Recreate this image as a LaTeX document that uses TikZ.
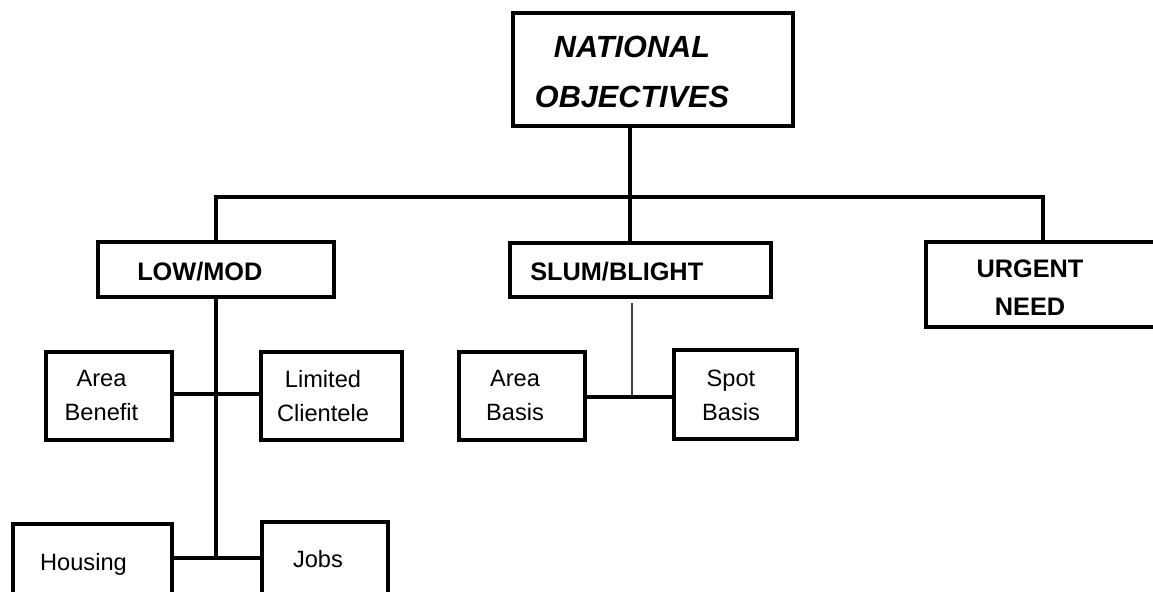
\documentclass[tikz,border=0pt]{standalone}
\usepackage{fontspec}
\setmainfont{Liberation Sans}
\usepackage{tikz}
\usetikzlibrary{calc}

\tikzset{
	box/.style={draw, line width=2.6pt, inner sep=0pt, rectangle},
	head/.style={font=\bfseries\fontsize{18}{22}\selectfont, inner sep=0pt},
	sub/.style={font=\fontsize{16.8}{24.2}\selectfont, inner sep=0pt, align=center},
	wire/.style={line width=2.6pt},
}

\begin{document}
\begin{tikzpicture}[x=0.025cm, y=-0.025cm]
	\useasboundingbox (0,0) rectangle (1153,592);
	\clip (0,0) rectangle (1153,592);

	% boxes
	\node[box, minimum width=280*0.025cm, minimum height=113*0.025cm] (nat) at (653,69.5) {};
	\node[box, minimum width=236*0.025cm, minimum height=55*0.025cm] (low) at (216,269.5) {};
	\node[box, minimum width=261*0.025cm, minimum height=54*0.025cm] (slum) at (640.5,270) {};
	\node[box, minimum width=234*0.025cm, minimum height=85*0.025cm] (urg) at (1043,284.5) {};

	\node[box, minimum width=126*0.025cm, minimum height=88*0.025cm] (areaben) at (109,396) {};
	\node[box, minimum width=141*0.025cm, minimum height=88*0.025cm] (limcl) at (331.5,396) {};
	\node[box, minimum width=126*0.025cm, minimum height=88*0.025cm] (areabas) at (522,396) {};
	\node[box, minimum width=123*0.025cm, minimum height=89*0.025cm] (spotbas) at (735.5,394.5) {};

	\node[box, minimum width=159*0.025cm, minimum height=96*0.025cm] (hous) at (92.5,572) {};
	\node[box, minimum width=126*0.025cm, minimum height=96*0.025cm] (jobs) at (325,570) {};

	% texts
	\node[font=\bfseries\itshape\fontsize{21.8}{35.6}\selectfont, inner sep=0pt, align=center] (natT) at (632,71.5) {NATIONAL\\OBJECTIVES};
	\node[head, anchor=base west] (lowT) at (137,280) {LOW/MOD};
	\node[head, anchor=base west] (slumT) at (530,280) {SLUM/BLIGHT};
	\node[head, font=\bfseries\fontsize{18}{27}\selectfont, align=center] (urgT) at (1030,288) {URGENT\\NEED};

	\node[sub] (areabenT) at (101.5,395.5) {Area\\Benefit};
	\node[sub] (limclT) at (323,396) {Limited\\Clientele};
	\node[sub] (areabasT) at (515,395.5) {Area\\Basis};
	\node[sub] (spotbasT) at (731,395.5) {Spot\\Basis};
	\node[sub, anchor=base] (housT) at (83.5,570) {Housing};
	\node[sub, anchor=base] (jobsT) at (318,567) {Jobs};

	% connectors
	\coordinate (bus) at (630,197);
	\coordinate (lowbus) at (216,394);
	\coordinate (lowend) at (216,558);
	\coordinate (slumtop) at (632,303);
	\coordinate (slumbot) at (632,397);

	\draw[wire] (nat.south -| bus) -- (bus);
	\draw[wire] (low.north) |- (bus) -| (urg.north);
	\draw[wire] (bus) -- (slum.north -| bus);
	\draw[wire] (low.south) -- (lowend);
	\draw[wire] (areaben.east |- lowbus) -- (limcl.west |- lowbus);
	\draw[wire] (hous.east |- lowend) -- (jobs.west |- lowend);
	\draw[line width=1.5pt, black!75] (slumtop) -- (slumbot);
	\draw[wire] (areabas.east |- slumbot) -- (spotbas.west |- slumbot);
\end{tikzpicture}
\end{document}
